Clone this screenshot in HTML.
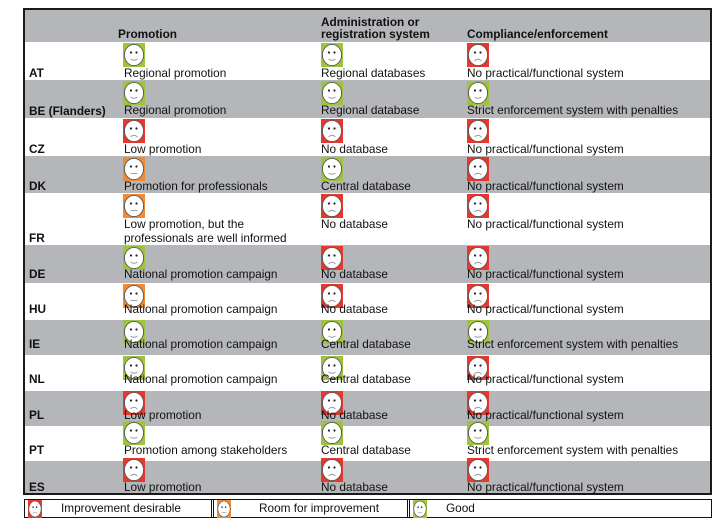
<!DOCTYPE html>
<html><head><meta charset="utf-8">
<style>
*{margin:0;padding:0;box-sizing:border-box}
body{width:719px;height:522px;background:#fff;position:relative;overflow:hidden;font-family:"Liberation Sans",Arial,sans-serif;font-size:11.8px;color:#111}
.a{position:absolute;white-space:nowrap;line-height:13px}
.b{font-weight:bold}
.row{position:absolute;left:24px;width:688px}
.g{background:#b4b6b9}
.ic{position:absolute;width:22px;height:24px}
.lic{position:absolute;width:14px;height:18px}
</style></head><body>
<svg width="0" height="0" style="position:absolute">
<defs>
<symbol id="s" viewBox="0 0 22 24"><rect width="22" height="24" fill="#9cc53c"/><ellipse cx="11" cy="12" rx="9.6" ry="10.6" fill="#fff" stroke="#555" stroke-width="0.9"/><circle cx="8" cy="9.5" r="1.1" fill="#222"/><circle cx="13.5" cy="9.5" r="1.1" fill="#222"/><path d="M7.5 16 Q11 18.5 14.5 16" fill="none" stroke="#999" stroke-width="0.9"/></symbol>
<symbol id="o" viewBox="0 0 22 24"><rect width="22" height="24" fill="#f08a34"/><ellipse cx="11" cy="12" rx="9.6" ry="10.6" fill="#fff" stroke="#555" stroke-width="0.9"/><circle cx="8" cy="9.5" r="1.1" fill="#222"/><circle cx="13.5" cy="9.5" r="1.1" fill="#222"/><path d="M7.5 16.5 H14.5" fill="none" stroke="#999" stroke-width="0.9"/></symbol>
<symbol id="r" viewBox="0 0 22 24"><rect width="22" height="24" fill="#e8382e"/><ellipse cx="11" cy="12" rx="9.6" ry="10.6" fill="#fff" stroke="#555" stroke-width="0.9"/><circle cx="8" cy="9.5" r="1.1" fill="#222"/><circle cx="13.5" cy="9.5" r="1.1" fill="#222"/><path d="M7.5 18 Q11 14.5 14.5 18" fill="none" stroke="#999" stroke-width="0.9"/></symbol>
</defs></svg>

<div class="row g" style="top:9px;height:33px"></div>
<div class="a b" style="left:118px;top:28px">Promotion</div>
<div class="a b" style="left:321px;top:16px">Administration or</div>
<div class="a b" style="left:321px;top:28px">registration system</div>
<div class="a b" style="left:467px;top:28px">Compliance/enforcement</div>

<div class="row g" style="top:80px;height:38px"></div>
<div class="row g" style="top:156px;height:37px"></div>
<div class="row g" style="top:245px;height:38px"></div>
<div class="row g" style="top:320px;height:35px"></div>
<div class="row g" style="top:391px;height:35px"></div>
<div class="row g" style="top:461px;height:33px"></div>

<svg class="ic" style="left:123px;top:43px"><use href="#s"/></svg><svg class="ic" style="left:321px;top:43px"><use href="#s"/></svg><svg class="ic" style="left:467px;top:43px"><use href="#r"/></svg>
<div class="a b" style="left:29px;top:67px">AT</div><div class="a" style="left:124px;top:67px">Regional promotion</div><div class="a" style="left:321px;top:67px">Regional databases</div><div class="a" style="left:467px;top:67px">No practical/functional system</div>
<svg class="ic" style="left:123px;top:81px"><use href="#s"/></svg><svg class="ic" style="left:321px;top:81px"><use href="#s"/></svg><svg class="ic" style="left:467px;top:81px"><use href="#s"/></svg>
<div class="a b" style="left:29px;top:105px">BE (Flanders)</div><div class="a" style="left:124px;top:104px">Regional promotion</div><div class="a" style="left:321px;top:104px">Regional database</div><div class="a" style="left:467px;top:104px">Strict enforcement system with penalties</div>
<svg class="ic" style="left:123px;top:119px"><use href="#r"/></svg><svg class="ic" style="left:321px;top:119px"><use href="#r"/></svg><svg class="ic" style="left:467px;top:119px"><use href="#r"/></svg>
<div class="a b" style="left:29px;top:143px">CZ</div><div class="a" style="left:124px;top:143px">Low promotion</div><div class="a" style="left:321px;top:143px">No database</div><div class="a" style="left:467px;top:143px">No practical/functional system</div>
<svg class="ic" style="left:123px;top:157px"><use href="#o"/></svg><svg class="ic" style="left:321px;top:157px"><use href="#s"/></svg><svg class="ic" style="left:467px;top:157px"><use href="#r"/></svg>
<div class="a b" style="left:29px;top:180px">DK</div><div class="a" style="left:124px;top:180px">Promotion for professionals</div><div class="a" style="left:321px;top:180px">Central database</div><div class="a" style="left:467px;top:180px">No practical/functional system</div>
<svg class="ic" style="left:123px;top:194px"><use href="#o"/></svg><svg class="ic" style="left:321px;top:194px"><use href="#r"/></svg><svg class="ic" style="left:467px;top:194px"><use href="#r"/></svg>
<div class="a b" style="left:29px;top:232px">FR</div><div class="a" style="left:124px;top:218px">Low promotion, but the</div><div class="a" style="left:124px;top:232px">professionals are well informed</div><div class="a" style="left:321px;top:218px">No database</div><div class="a" style="left:467px;top:218px">No practical/functional system</div>
<svg class="ic" style="left:123px;top:246px"><use href="#s"/></svg><svg class="ic" style="left:321px;top:246px"><use href="#r"/></svg><svg class="ic" style="left:467px;top:246px"><use href="#r"/></svg>
<div class="a b" style="left:29px;top:268px">DE</div><div class="a" style="left:124px;top:268px">National promotion campaign</div><div class="a" style="left:321px;top:268px">No database</div><div class="a" style="left:467px;top:268px">No practical/functional system</div>
<svg class="ic" style="left:123px;top:284px"><use href="#o"/></svg><svg class="ic" style="left:321px;top:284px"><use href="#r"/></svg><svg class="ic" style="left:467px;top:284px"><use href="#r"/></svg>
<div class="a b" style="left:29px;top:303px">HU</div><div class="a" style="left:124px;top:303px">National promotion campaign</div><div class="a" style="left:321px;top:303px">No database</div><div class="a" style="left:467px;top:303px">No practical/functional system</div>
<svg class="ic" style="left:123px;top:320px"><use href="#s"/></svg><svg class="ic" style="left:321px;top:320px"><use href="#s"/></svg><svg class="ic" style="left:467px;top:320px"><use href="#s"/></svg>
<div class="a b" style="left:29px;top:338px">IE</div><div class="a" style="left:124px;top:338px">National promotion campaign</div><div class="a" style="left:321px;top:338px">Central database</div><div class="a" style="left:467px;top:338px">Strict enforcement system with penalties</div>
<svg class="ic" style="left:123px;top:356px"><use href="#s"/></svg><svg class="ic" style="left:321px;top:356px"><use href="#s"/></svg><svg class="ic" style="left:467px;top:356px"><use href="#r"/></svg>
<div class="a b" style="left:29px;top:373px">NL</div><div class="a" style="left:124px;top:373px">National promotion campaign</div><div class="a" style="left:321px;top:373px">Central database</div><div class="a" style="left:467px;top:373px">No practical/functional system</div>
<svg class="ic" style="left:123px;top:391px"><use href="#r"/></svg><svg class="ic" style="left:321px;top:391px"><use href="#r"/></svg><svg class="ic" style="left:467px;top:391px"><use href="#r"/></svg>
<div class="a b" style="left:29px;top:409px">PL</div><div class="a" style="left:124px;top:409px">Low promotion</div><div class="a" style="left:321px;top:409px">No database</div><div class="a" style="left:467px;top:409px">No practical/functional system</div>
<svg class="ic" style="left:123px;top:421px"><use href="#s"/></svg><svg class="ic" style="left:321px;top:421px"><use href="#s"/></svg><svg class="ic" style="left:467px;top:421px"><use href="#s"/></svg>
<div class="a b" style="left:29px;top:444px">PT</div><div class="a" style="left:124px;top:444px">Promotion among stakeholders</div><div class="a" style="left:321px;top:444px">Central database</div><div class="a" style="left:467px;top:444px">Strict enforcement system with penalties</div>
<svg class="ic" style="left:123px;top:458px"><use href="#r"/></svg><svg class="ic" style="left:321px;top:458px"><use href="#r"/></svg><svg class="ic" style="left:467px;top:458px"><use href="#r"/></svg>
<div class="a b" style="left:29px;top:481px">ES</div><div class="a" style="left:124px;top:481px">Low promotion</div><div class="a" style="left:321px;top:481px">No database</div><div class="a" style="left:467px;top:481px">No practical/functional system</div>

<div style="position:absolute;left:23px;top:8px;width:689px;height:487px;border:2px solid #1a1a1a"></div>

<div style="position:absolute;left:24px;top:499px;width:688px;height:19px;border:1.5px solid #111"></div>
<div style="position:absolute;left:211px;top:499px;width:3px;height:19px;border-left:1px solid #111;border-right:1px solid #111"></div>
<div style="position:absolute;left:407px;top:499px;width:3px;height:19px;border-left:1px solid #111;border-right:1px solid #111"></div>
<svg class="lic" style="left:28px;top:500px" viewBox="0 0 22 24" preserveAspectRatio="none"><use href="#r"/></svg>
<svg class="lic" style="left:217px;top:500px" viewBox="0 0 22 24" preserveAspectRatio="none"><use href="#o"/></svg>
<svg class="lic" style="left:413px;top:500px" viewBox="0 0 22 24" preserveAspectRatio="none"><use href="#s"/></svg>
<div class="a" style="left:61px;top:502px">Improvement desirable</div>
<div class="a" style="left:259px;top:502px">Room for improvement</div>
<div class="a" style="left:446px;top:502px">Good</div>
</body></html>
